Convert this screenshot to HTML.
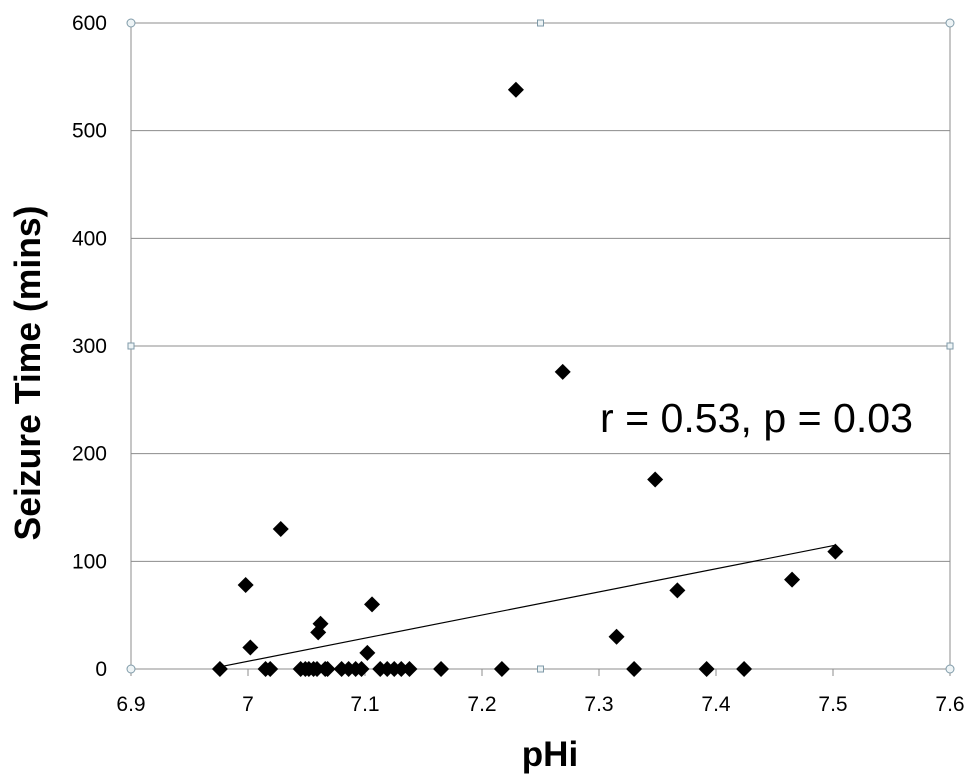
<!DOCTYPE html>
<html><head><meta charset="utf-8"><style>
html,body{margin:0;padding:0;background:#fff;}
svg{display:block;font-family:"Liberation Sans",sans-serif;}
</style></head><body>
<svg id="chart" width="974" height="781" viewBox="0 0 974 781"></svg>
<script>
const xTicks=[6.9,7,7.1,7.2,7.3,7.4,7.5,7.6];
const xTickLabels=["6.9","7","7.1","7.2","7.3","7.4","7.5","7.6"];
const yTicks=[0,100,200,300,400,500,600];
const yTickLabels=["0","100","200","300","400","500","600"];
const phValues=[6.976,7.015,7.019,7.045,7.049,7.052,7.056,7.059,7.066,7.068,7.080,7.086,7.092,7.097,7.113,7.119,7.125,7.131,7.138,7.165,7.217,7.330,7.392,7.424,
6.998,7.002,7.028,7.060,7.062,7.106,7.102,7.229,7.269,7.315,7.348,7.367,7.465,7.502];
const seizureValues=[0,0,0,0,0,0,0,0,0,0,0,0,0,0,0,0,0,0,0,0,0,0,0,0,
78,20,130,34,42,60,15,538,276,30,176,73,83,109];
const trendX=[6.976,7.502];
const trendY=[2,115];

const svg=document.getElementById('chart');
const NS='http://www.w3.org/2000/svg';
const L=131,R=950,T=23,B=669;
const xs=v=>L+(v-6.9)/0.7*(R-L);
const ys=v=>B-v/600*(B-T);
function mk(tag,attrs,parent){const e=document.createElementNS(NS,tag);for(const k in attrs)e.setAttribute(k,attrs[k]);(parent||svg).appendChild(e);return e;}

const grid=mk('g',{});


yTicks.forEach((t,i)=>{
  const y=ys(t);
  const l=mk('line',{x1:L,x2:R,y1:y,y2:y,stroke:'#8c8c8c','stroke-width':1},grid);
  
  
  const tx=mk('text',{x:107,y:y+7,'text-anchor':'end','font-size':21,fill:'#000'});
  tx.textContent=yTickLabels[i];
  
  
});
const ax=mk('line',{x1:L,x2:L,y1:T,y2:B,stroke:'#8c8c8c','stroke-width':1});


const rx=mk('line',{x1:R,x2:R,y1:T,y2:B,stroke:'#8c8c8c','stroke-width':1});


xTicks.forEach((t,i)=>{
  const x=xs(t);
  const tk=mk('line',{x1:x,x2:x,y1:B,y2:B+7,stroke:'#8c8c8c'});
  
  
  const tx=mk('text',{x:x,y:711,'text-anchor':'middle','font-size':21,fill:'#000'});
  tx.textContent=xTickLabels[i];
  
  
});
[[L,T,'c'],[(L+R)/2,T,'s'],[R,T,'c'],[L,(T+B)/2,'s'],[R,(T+B)/2,'s'],[L,B,'c'],[(L+R)/2,B,'s'],[R,B,'c']].forEach((h,i)=>{
  let e;
  if(h[2]==='c')e=mk('circle',{cx:h[0],cy:h[1],r:4,fill:'#eef4f6',stroke:'#7f9aa8'});
  else e=mk('rect',{x:h[0]-3,y:h[1]-3,width:6,height:6,fill:'#eef4f6',stroke:'#7f9aa8'});
  
  
});
const tl=mk('line',{x1:xs(trendX[0]),y1:ys(trendY[0]),x2:xs(trendX[1]),y2:ys(trendY[1]),stroke:'#000','stroke-width':1.2});


const pts=mk('g',{});


phValues.forEach((v,i)=>{
  const x=xs(v),y=ys(seizureValues[i]),s=8;
  const p=mk('polygon',{points:`${x},${y-s} ${x+s},${y} ${x},${y+s} ${x-s},${y}`,fill:'#000'},pts);
  
  
});
const ann=mk('text',{x:600,y:432,'font-size':41,fill:'#000',textLength:313,lengthAdjust:'spacingAndGlyphs'});
ann.textContent='r = 0.53, p = 0.03';


const xt=mk('text',{x:550,y:766,'text-anchor':'middle','font-size':35,'font-weight':'bold',fill:'#000'});
xt.textContent='pHi';


const yt=mk('text',{x:0,y:0,'text-anchor':'middle','font-size':36,'font-weight':'bold',fill:'#000',textLength:335,lengthAdjust:'spacingAndGlyphs',transform:'translate(40,373) rotate(-90)'});
yt.textContent='Seizure Time (mins)';


</script>
</body></html>
